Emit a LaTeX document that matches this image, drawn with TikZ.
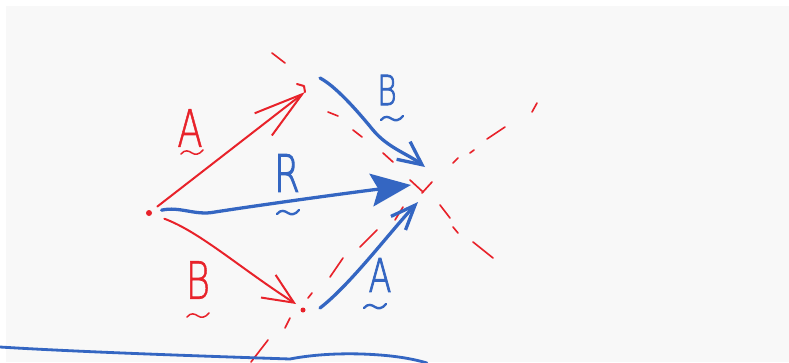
\documentclass[tikz,border=0pt]{standalone}
\usepackage{fontspec}
\newfontfamily\handfont{DejaVu Sans ExtraLight}[FakeBold=1.2]
\newfontfamily\handfontb{DejaVu Sans ExtraLight}[FakeBold=2.4]
\usetikzlibrary{arrows.meta}
\definecolor{penred}{RGB}{232,34,42}
\definecolor{penblue}{RGB}{52,102,194}
\definecolor{paper}{RGB}{248,248,248}
\tikzset{
  redpen/.style={penred, line width=1.7pt, line cap=round, line join=round},
  bluepen/.style={penblue, line width=2.8pt, line cap=round, line join=round},
  guide/.style={penred, line width=1.4pt, line cap=round},
  letter/.style={font=\fontsize{44}{44}\selectfont\handfont, inner sep=0pt, xscale=0.72, transform shape},
  bletter/.style={letter, font=\fontsize{44}{44}\selectfont\handfontb},
  vecmark/.pic={\draw (-11,2) .. controls (-7,-3) and (-3,-1) .. (0,1) .. controls (3,3) and (7,3) .. (11,-2);}
}
\begin{document}
\begin{tikzpicture}[x=0.03cm, y=-0.03cm]

% paper
\useasboundingbox (0,0) rectangle (789,362);
\fill[white] (0,0) rectangle (789,362);
\fill[paper] (6,6) rectangle (789,362);

% corners of the parallelogram
\coordinate (O) at (149,213);
\coordinate (P) at (305,92);
\coordinate (Q) at (296,304);
\coordinate (S) at (411,185);
\coordinate (Bs) at (320,78);
\coordinate (Be) at (425,167);
\coordinate (As) at (320,308);
\coordinate (Ae) at (418,202);

% dashed guide lines, dash by dash
\foreach \xa/\ya/\xb/\yb in {272/53/285/63, 328/112/338/116, 353/130/362/137,
    383/153/393/162, 410/180/423/192, 440/205/450/218, 453/227/458/233, 473/242/493/258}
  \draw[guide] (\xa,\ya) -- (\xb,\yb);
\foreach \xa/\ya/\xb/\yb in {537/103/532/112, 505/127/487/139, 474/150/470/153,
    458/158/453/163, 432/182/422/193, 403/207/395/220, 377/230/360/247,
    343/258/330/277, 312/293/308/298, 290/318/285/328, 268/340/251/362}
  \draw[guide] (\xa,\ya) -- (\xb,\yb);

% red vectors A and B from O
\fill[penred] (O) circle[radius=3];
\draw[redpen, -{Straight Barb[length=42pt,width=24pt]}, shorten <=9pt] (O) -- (P);
\draw[redpen] (297,84) -- (304,86) -- (P);
\draw[redpen, -{Straight Barb[length=26pt,width=23pt]}, shorten <=14pt]
  (O) .. controls (200,232) and (240,268) .. (Q);
\fill[penred] (303,310) circle[radius=2.5];

% blue vectors B, A and the resultant R
\draw[bluepen, -{Straight Barb[length=20pt,width=19pt]}]
  (Bs) .. controls (335,86) and (355,108) .. (373,130) .. controls (388,148) and (408,154) .. (Be);
\draw[bluepen, -{Straight Barb[length=21pt,width=17pt]}]
  (As) .. controls (350,285) and (390,232) .. (Ae);
\draw[bluepen, -{Stealth[length=34pt,width=28pt,inset=6pt]}, shorten <=11pt]
  (O) .. controls (180,206) and (195,216) .. (215,212) .. controls (260,205) and (340,194) .. (S);

% labels
\node[letter, penred] (labA) at (190,128) {A};
\pic[redpen, line width=1.3pt] at (192,152) {vecmark};
\node[letter, penred] (labB) at (198,280) {B};
\pic[redpen, line width=1.3pt] at (198,315) {vecmark};
\node[bletter, penblue, scale=0.8] (labBb) at (387,90) {B};
\pic[bluepen, line width=2pt] at (392,118) {vecmark};
\node[bletter, penblue] (labR) at (287,173) {R};
\pic[bluepen, line width=2pt] at (288,212) {vecmark};
\node[bletter, penblue, scale=0.9] (labAb) at (380,275) {A};
\pic[bluepen, line width=2pt] at (375,306) {vecmark};

% stroke along the bottom
\draw[bluepen, line width=2.4pt] (0,347) .. controls (80,352) and (200,356) .. (290,359)
  .. controls (305,356) and (330,353) .. (362,354) .. controls (390,355) and (410,358) .. (427,363);

\end{tikzpicture}
\end{document}
